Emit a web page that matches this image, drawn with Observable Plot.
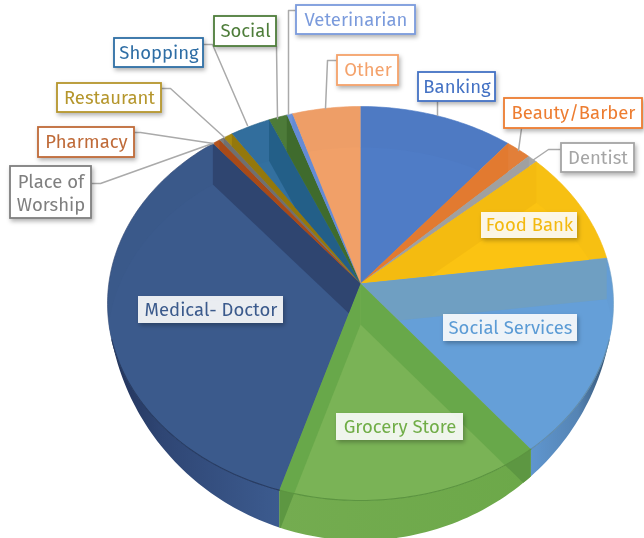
<!DOCTYPE html>
<html><head><meta charset="utf-8">
<style>html,body{margin:0;padding:0;background:#fff}svg{display:block;filter:blur(.45px)}</style>
<script src="https://cdn.jsdelivr.net/npm/d3@7"></script>
<script src="https://cdn.jsdelivr.net/npm/@observablehq/plot@0.6"></script>
</head><body><div id="chart"></div>
<script>
// Data: shares in percent, clockwise from 12 o'clock
const categories = ["Banking","Beauty/Barber","Dentist","Food Bank","Social Services","Grocery Store","Medical- Doctor","Pharmacy","Place of Worship","Restaurant","Shopping","Social","Veterinarian","Other"];
const shares = [10.9,1.8,0.7,9.5,16.4,15.4,34.4,0.55,0.35,0.65,2.85,1.3,0.4,4.8];
// Styles
const litColors  = ["#4f7cc6","#e5813a","#a8a8a8","#fbc312","#659fd8","#7ab356","#3b5a8c","#b9551f","#7f7f7f","#a88a10","#33709f","#4e7d3a","#6f94dc","#f1a068"];
const bandColors = ["#4a79c4","#e27a30","#a0a0a0","#f4bb10","#6f9fc2","#68a84a","#2f4570","#a84a18","#707070","#94780c","#235f88","#3f6b2d","#648bd4","#ee9c66"];
const labelColors= ["#4472c4","#ed7d31","#a5a5a5","#f3b90f","#5b9bd5","#70ad47","#3b5a8c","#bf6a38","#7f7f7f","#b5962c","#2f6ea5","#4e7d3a","#7b9bdc","#f4a26b"];
// Label boxes, in picture pixels
const boxX1 = [418,504,561,481,443,336,138,38,10,57,114,214,296,337];
const boxX2 = [495,642,634,577,577,463,283,134,91,161,203,276,415,398];
const boxY1 = [72,98,143,212,314,413,296,127,166,83,38,16,5,55];
const boxY2 = [101,128,172,238,341,440,323,157,218,112,67,46,34,85];
const framed = [1,1,1,0,0,0,0,1,1,1,1,1,1,1];
const leaders = [
 [[437,101],[437,115]],
 [[521,128],[518,150]],
 [[561,149],[548,149],[532,160]],
 [],[],[],[],
 [[134,132],[140,132],[213,143]],
 [[91,183],[100,183],[212,143]],
 [[161,88],[170,88],[224,137]],
 [[203,44],[212,44],[247,125]],
 [[276,46],[277,118]],
 [[296,10],[288,10],[288,114]],
 [[337,60],[327,60],[325,108]]
];

// Pie geometry: an ellipse seen in perspective, apex off its centre
const cx = 360, cy = 303, a = 253, b = 197, apexY = 283, shiftY = 41;
const botCy = 294, botB = 246;
const d = (apexY - cy) / b, s = Math.sqrt(1 - d * d);
function project(theta) { // theta clockwise from top on the true disk
  const X = Math.sin(theta), Y = -Math.cos(theta), k = 1 + d * Y;
  return [cx + a * X * s / k, cy + b * (Y + d) / k];
}
const total = d3.sum(shares);
const cum = d3.cumsum(shares);
const polys = categories.map((c, i) => {
  const t0 = ((i ? cum[i-1] : 0) / total) * 2 * Math.PI, t1 = (cum[i] / total) * 2 * Math.PI;
  const n = Math.max(2, Math.ceil((t1 - t0) / 0.02));
  const arc = d3.range(n + 1).map(j => project(t0 + (t1 - t0) * j / n));
  return {c, i, arc, poly: [[cx, apexY], ...arc]};
});
// Clip a polygon against a convex polygon
function clip(subject, clipper) {
  if (d3.polygonArea(clipper) > 0) clipper = clipper.slice().reverse();
  let out = subject;
  for (let i = 0; i < clipper.length; i++) {
    const A = clipper[i], B = clipper[(i + 1) % clipper.length];
    const side = p => (B[0]-A[0])*(p[1]-A[1]) - (B[1]-A[1])*(p[0]-A[0]);
    const input = out; out = [];
    for (let j = 0; j < input.length; j++) {
      const P = input[j], Q = input[(j + 1) % input.length], sp = side(P), sq = side(Q);
      if (sp >= 0) out.push(P);
      if ((sp >= 0) !== (sq >= 0)) { const u = sp / (sp - sq); out.push([P[0]+u*(Q[0]-P[0]), P[1]+u*(Q[1]-P[1])]); }
    }
    if (!out.length) break;
  }
  return out;
}
const botY = x => botCy + botB * Math.sqrt(Math.max(0, 1 - ((x - cx) / a) ** 2));
const frontArcs = polys.map(p => ({k: p.i, c: p.c, pts: p.arc.filter(q => q[1] >= cy && botY(q[0]) > q[1])})).filter(w => w.pts.length > 1);
const wallPolys = frontArcs.map(w => ({k: w.k, c: w.c, pts: [...w.pts, ...w.pts.slice().reverse().map(q => [q[0], botY(q[0])])]}));

// Face cast by a straight edge of a slice: apex, rim point, and their downward shift
const face = (q) => [[cx, apexY], q, [q[0], q[1] + shiftY], [cx, apexY + shiftY]];
const faces = polys.flatMap(p => [p.arc[0], p.arc[p.arc.length - 1]].map(q => face(q)).flatMap((f, e) => {
  const w = wallPolys.find(w => w.k === p.i);
  return [
    {k: `${p.i}-${e}-t`, c: p.c, pts: clip(p.poly, f)},
    ...(w ? [{k: `${p.i}-${e}-w`, c: p.c, pts: clip(w.pts, f), wall: true}] : [])
  ];
}));
const rows = ps => ps.flatMap(({k, pts, c, wall}) => pts.map(p => ({k, c, wall, x: p[0], y: p[1]})));
const topRows = rows(polys.map(p => ({k: p.i, c: p.c, pts: p.poly})));
const litRows = rows(polys.map(p => ({k: p.i, c: p.c, pts: clip(p.poly, p.poly.map(q => [q[0], q[1] + shiftY]))})));
const faceRows = rows(faces);
const wallRows = rows(wallPolys);
const rimRows = rows(frontArcs);
const wallFill = {"Social Services":"url(#wallBlue)","Grocery Store":"url(#wallGreen)","Medical- Doctor":"url(#wallNavy)"};

const color = {type:"ordinal", domain: categories, range: litColors};
const byName = Object.fromEntries(categories.map((c,i)=>[c,bandColors[i]]));
const rimTint = c => d3.color(litColors[categories.indexOf(c)]).darker(.04).formatHex();
const labels = categories.map((c,i)=>({c,i,x1:boxX1[i],x2:boxX2[i],y1:boxY1[i],y2:boxY2[i],framed:framed[i],col:labelColors[i]}));
const leaderRows = leaders.flatMap((l,i)=>l.map(p=>({i,x:p[0],y:p[1]})));
const font = "'Trebuchet MS','Fira Sans','Noto Sans',sans-serif";

const chart = Plot.plot({
  width: 644, height: 538, margin: 0,
  x: {domain:[0,644], range:[0,644], axis:null},
  y: {domain:[0,538], range:[0,538], axis:null},
  color,
  marks: [
    () => {
      const ns="http://www.w3.org/2000/svg";
      const g=document.createElementNS(ns,"defs");
      g.innerHTML=`
      <linearGradient id="wallNavy" x1="0" x2="1" y1="0" y2="0"><stop offset="0" stop-color="#22335a"/><stop offset=".3" stop-color="#2f4674"/><stop offset="1" stop-color="#3c5b8f"/></linearGradient>
      <linearGradient id="wallGreen" x1="0" x2="1" y1="0" y2="0"><stop offset="0" stop-color="#74ac50"/><stop offset="1" stop-color="#6ca849"/></linearGradient>
      <linearGradient id="wallBlue" x1="0" x2="1" y1="0" y2="0"><stop offset="0" stop-color="#5f96cf"/><stop offset=".6" stop-color="#5584b4"/><stop offset="1" stop-color="#33506f"/></linearGradient>
      <filter id="sh" x="-20%" y="-20%" width="140%" height="150%"><feDropShadow dx="1.5" dy="2.5" stdDeviation="2" flood-color="#000" flood-opacity=".3"/></filter>`;
      return g;
    },
    ...wallPolys.map(w => Plot.line(wallRows.filter(r=>r.k===w.k), {x:"x",y:"y",fill:wallFill[w.c]||byName[w.c],stroke:"none",curve:"linear"})),
    Plot.line(topRows, {x:"x",y:"y",z:"k",fill:d=>rimTint(d.c),stroke:d=>byName[d.c],strokeWidth:.6,curve:"linear"}),
    Plot.line(litRows, {x:"x",y:"y",z:"k",fill:"c",stroke:"none",curve:"linear"}),
    Plot.line(faceRows, {x:"x",y:"y",z:"k",fill:d=>d.wall?d3.color(byName[d.c]).darker(.3).formatHex():byName[d.c],stroke:"none",curve:"linear"}),
    Plot.line(rimRows, {x:"x",y:"y",z:"k",stroke:d=>d3.color(byName[d.c]).darker(.35).formatHex(),strokeWidth:1.1,curve:"linear"}),
    Plot.line(leaderRows, {x:"x",y:"y",z:"i",stroke:"#aaaaaa",strokeWidth:1.5,curve:"linear"}),
    Plot.rect(labels, {x1:"x1",x2:"x2",y1:"y1",y2:"y2",
      fill:"#ffffff",fillOpacity:d=>d.framed?1:.88,
      stroke:d=>d.framed?d.col:"none",strokeWidth:1.8,
      render:(i,s,v,dim,ctx,next)=>{const g=next(i,s,v,dim,ctx);g.setAttribute("style","filter:url(#sh)");return g;}}),
    Plot.text(labels.filter(l=>l.c!=="Place of Worship"), {x:d=>(d.x1+d.x2)/2,y:d=>(d.y1+d.y2)/2,text:"c",fill:"col",fontSize:18.5,fontFamily:font}),
    Plot.text(labels.filter(l=>l.c==="Place of Worship"), {x:d=>(d.x1+d.x2)/2,y:d=>(d.y1+d.y2)/2,text:()=>"Place of\nWorship",lineHeight:1.25,fill:"col",fontSize:18.5,fontFamily:font})
  ]
});
document.getElementById("chart").append(chart);
</script></body></html>
